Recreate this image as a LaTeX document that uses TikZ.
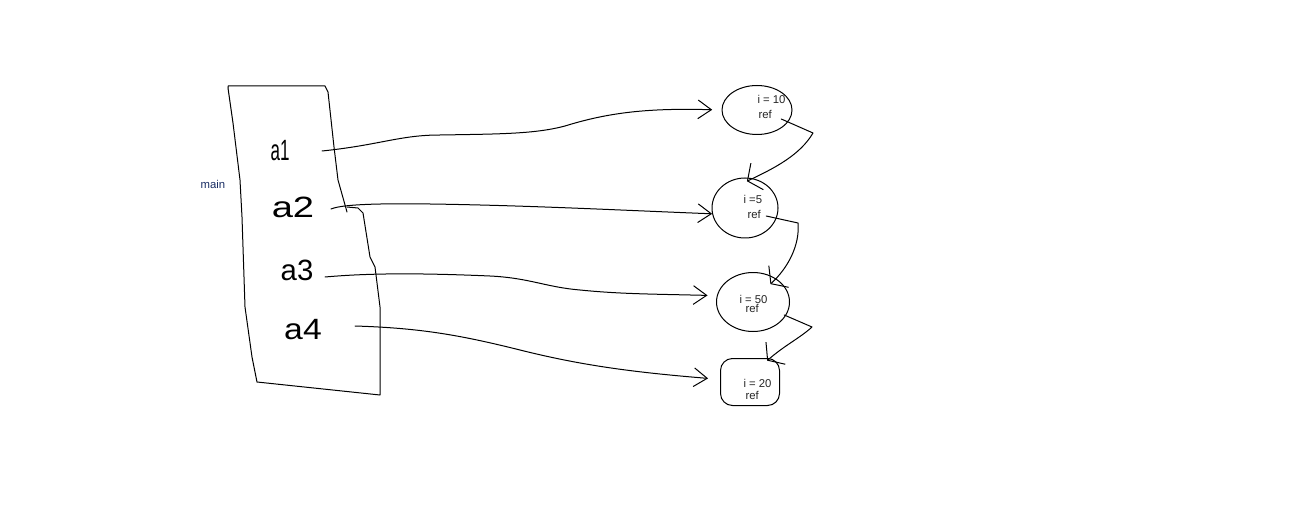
\documentclass[tikz,border=0pt]{standalone}
\usepackage{fontspec}
\setmainfont{Liberation Sans}
\usetikzlibrary{arrows.meta,shapes.geometric}
\begin{document}
\begin{tikzpicture}[x=0.75pt,y=-0.75pt,
  line width=0.75pt, line join=round, line cap=round,
  blob/.style={draw, ellipse, inner sep=0pt},
  val/.style={font=\fontsize{8.5}{9}\selectfont, text=black!85, anchor=west, inner sep=0pt},
  hand/.style={font=\fontsize{22}{22}\selectfont, inner sep=0pt},
  ptr/.style={draw, -{Straight Barb[length=10pt,width=14pt]}},
  link/.style={draw, -{Straight Barb[length=8pt,width=22pt]}}]
\fill[white] (0,0) rectangle (1308,527);
\useasboundingbox (0,0) rectangle (1308,527);

% main frame
\draw (228,88) -- (228,86) -- (325,86) -- (328,92) -- (334,147) -- (338,180) -- (347,212);
\draw (347,207) -- (358,208) -- (363,213) -- (370,257) -- (375,267) -- (380,307) -- (380,395)
      -- (257,382) -- (252,357) -- (245,307) -- (242,217) -- (240,180) -- (233,123) -- (228,88);
\node[font=\fontsize{8.5}{9}\selectfont, text={rgb,255:red,25;green,45;blue,100}, inner sep=0pt] (main) at (213,184) {main};

% labels
\node[hand, xscale=0.58] (a1) at (280,151) {a1};
\node[hand, xscale=1.3] (a2) at (293,207) {a2};
\node[hand, xscale=1.0] (a3) at (297,270) {a3};
\node[hand, xscale=1.15] (a4) at (303,330) {a4};

% objects
\node[blob, minimum width=52.5pt, minimum height=36.75pt] (n1) at (757,110) {};
\node[blob, minimum width=49.5pt, minimum height=45pt] (n2) at (745,208) {};
\node[blob, minimum width=54.75pt, minimum height=44.25pt] (n3) at (753,302) {};
\node[draw, rounded corners=9pt, minimum width=44.25pt, minimum height=35.25pt, inner sep=0pt] (n4) at (750,382) {};

\node[val] (v1) at (757,99) {i = 10};
\node[val] (r1) at (758,114) {ref};
\node[val] (v2) at (743,199) {i =5};
\node[val] (r2) at (747,214) {ref};
\node[val] (v3) at (739,299) {i = 50};
\node[val] (r3) at (745,308) {ref};
\node[val] (v4) at (743,383) {i = 20};
\node[val] (r4) at (745,395) {ref};

% pointers from main
\coordinate (s1) at (322,151);
\coordinate (s2) at (331,209);
\coordinate (s3) at (325,277);
\coordinate (s4) at (355,326);
\draw[ptr, shorten >=7pt] (s1) .. controls (380,145) and (400,135) .. (440,135)
   .. controls (500,134) and (535,134) .. (565,126) .. controls (610,112) and (650,108) .. (n1.west);
\draw[ptr] (s2) .. controls (345,203) and (400,203) .. (480,205)
   .. controls (560,207) and (640,211) .. (n2.190);
\draw[ptr, shorten >=7pt] (s3) .. controls (370,273) and (420,273) .. (490,276)
   .. controls (530,278) and (545,287) .. (580,290) .. controls (620,294) and (650,294) .. (n3.170);
\draw[ptr, shorten >=9pt] (s4) .. controls (420,328) and (460,335) .. (520,350)
   .. controls (580,365) and (630,372) .. (n4.175);

% ref links
\draw[link, shorten >=-5pt] ([shift={(9,5)}]r1.east) -- (813,133) .. controls (800,155) and (775,168) .. (n2.75);
\draw[link, shorten >=-6pt] ([shift={(5,2)}]r2.east) -- (798,223) .. controls (800,245) and (788,268) .. (n3.45);
\draw[link, shorten >=-3pt] ([shift={(25,7)}]r3.east) -- (812,327) .. controls (800,338) and (785,345) .. (n4.50);
\end{tikzpicture}
\end{document}
